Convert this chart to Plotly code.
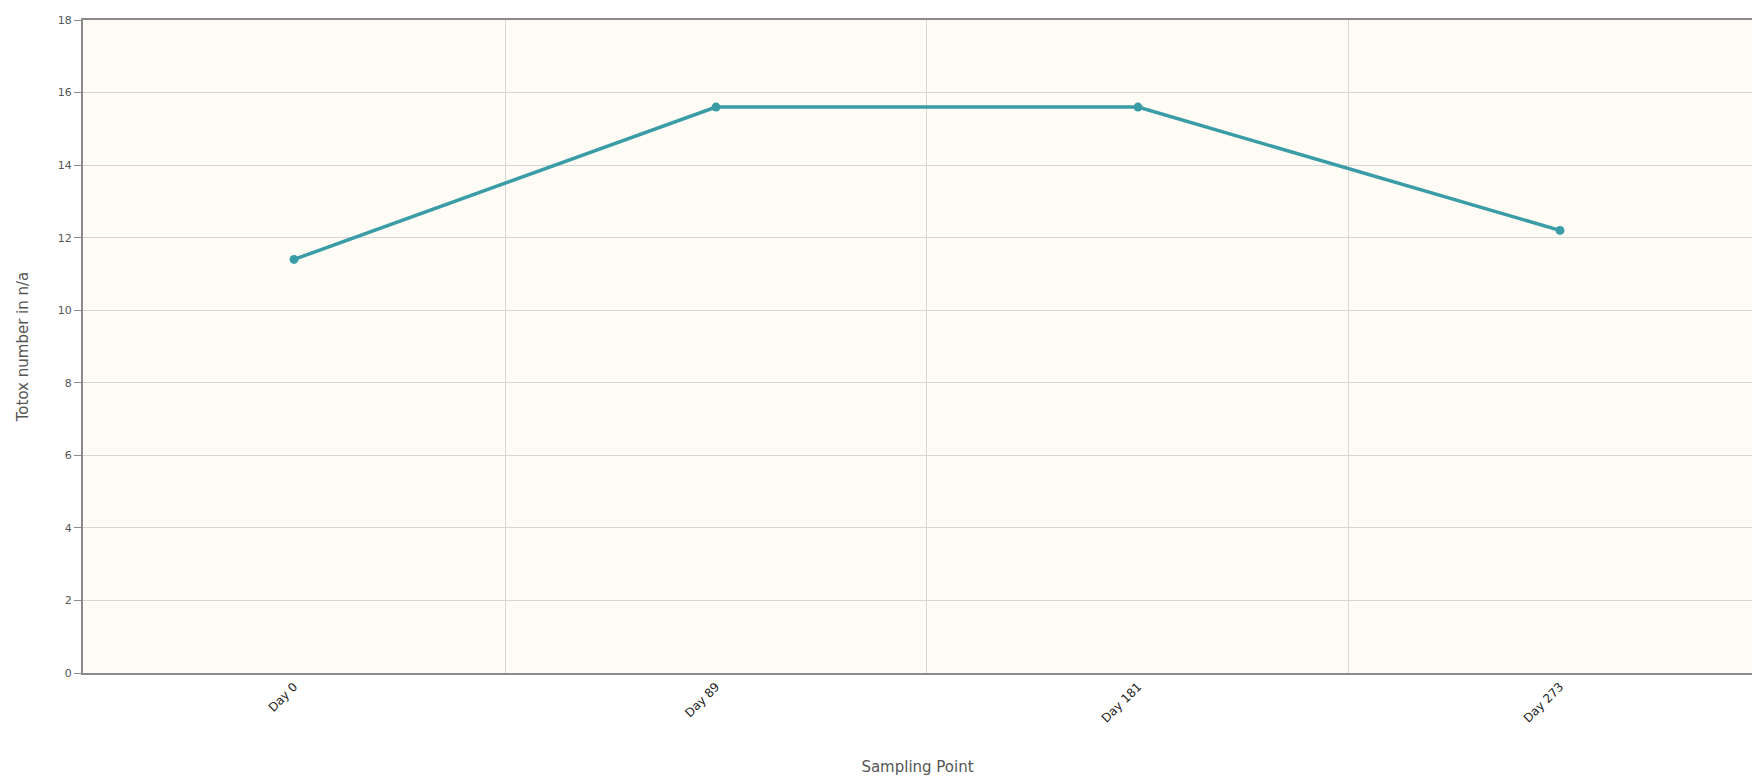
import plotly.graph_objects as go

categories = ["Day 0", "Day 89", "Day 181", "Day 273"]
totox_values = [11.4, 15.6, 15.6, 12.2]
y_ticks = [0, 2, 4, 6, 8, 10, 12, 14, 16, 18]

fig = go.Figure()
fig.add_trace(go.Scatter(
    x=categories, y=totox_values, mode="lines+markers",
    line=dict(color="#3a9ca6", width=3.5),
    marker=dict(color="#3a9ca6", size=9),
    showlegend=False,
))

fig.update_layout(
    width=1744, height=768,
    margin=dict(l=75, r=0, t=12, b=103),
    paper_bgcolor="white",
    plot_bgcolor="#fffcf6",
    font=dict(family="DejaVu Sans", color="#555555"),
    xaxis=dict(
        type="category", range=[-0.5, 3.455],
        tickson="boundaries", showgrid=True, gridcolor="#d6d6d6", gridwidth=1,
        showline=True, linecolor="#8a8a8a", linewidth=2, mirror=True,
        ticks="", tickangle=-45, tickfont=dict(size=12, color="#222222"),
        title=dict(text="Sampling Point", font=dict(size=15, color="#555555"), standoff=40),
    ),
    yaxis=dict(
        range=[0, 18], tickvals=y_ticks, showgrid=True, gridcolor="#d6d6d6", gridwidth=1,
        showline=True, linecolor="#8a8a8a", linewidth=2,
        ticks="outside", ticklen=7, tickcolor="#8a8a8a",
        tickfont=dict(size=11, color="#555555"), zeroline=False,
        title=dict(text="Totox number in n/a", font=dict(size=15, color="#555555"), standoff=26),
    ),
)

fig.write_html("out.html")
